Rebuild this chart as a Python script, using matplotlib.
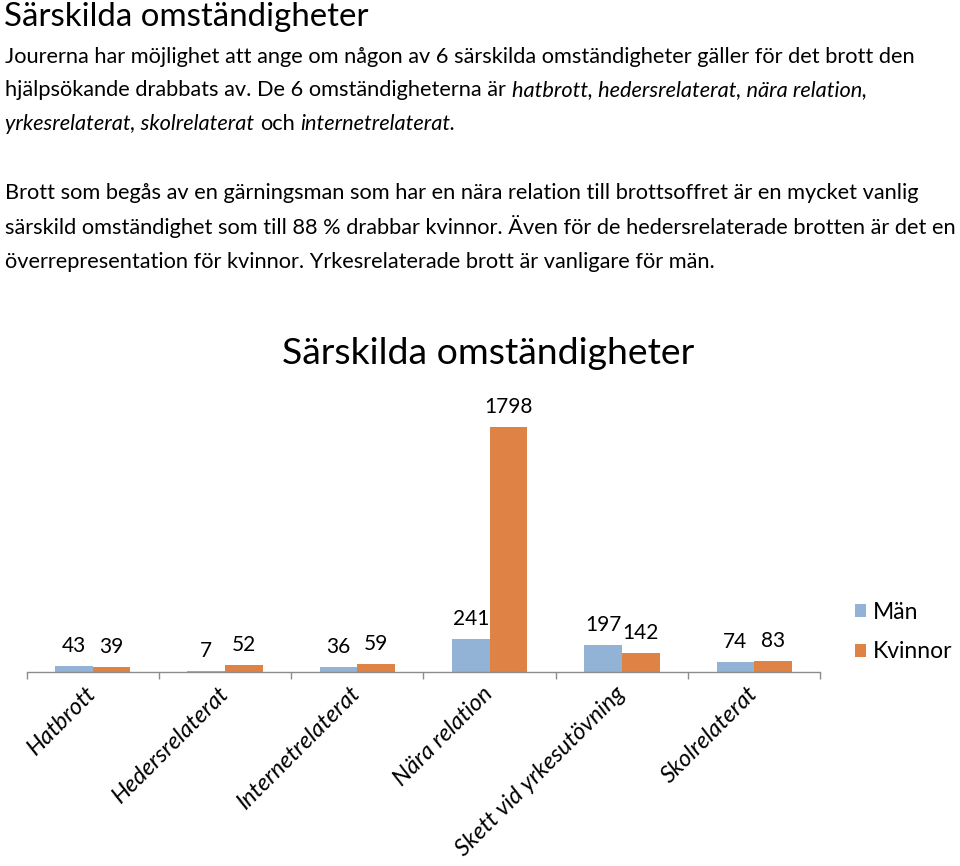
import matplotlib
matplotlib.use("Agg")
import matplotlib.pyplot as plt
import numpy as np

# ---------------- data ----------------
categories = ["Hatbrott", "Hedersrelaterat", "Internetrelaterat", "Nära relation",
              "Skett vid yrkesutövning", "Skolrelaterat"]
man = [43, 7, 36, 241, 197, 74]
kvinnor = [39, 52, 59, 1798, 142, 83]
series_names = ["Män", "Kvinnor"]

page_heading = "Särskilda omständigheter"
chart_title = "Särskilda omständigheter"
para1 = [
    [("Jourerna har möjlighet att ange om någon av 6 särskilda omständigheter gäller för det brott den", "normal")],
    [("hjälpsökande drabbats av. De 6 omständigheterna är", "normal"), (" ", "sp"),
     ("hatbrott, hedersrelaterat, nära relation,", "italic")],
    [("yrkesrelaterat, skolrelaterat", "italic"), (" ", "sp"), ("och", "normal"), (" ", "sp"),
     ("internetrelaterat.", "italic")],
]
para2 = [
    [("Brott som begås av en gärningsman som har en nära relation till brottsoffret är en mycket vanlig", "normal")],
    [("särskild omständighet som till 88 % drabbar kvinnor. Även för de hedersrelaterade brotten är det en", "normal")],
    [("överrepresentation för kvinnor. Yrkesrelaterade brott är vanligare för män.", "normal")],
]

# ---------------- style ----------------
W, H = 960, 866
C_MAN = "#93B3D6"
C_KV = "#DF8246"
AX_COL = "#8C8C8C"
BODY_FONT = "Lato"
CHART_FONT = "Lato"

fig = plt.figure(figsize=(W / 100, H / 100), dpi=100)
renderer = fig.canvas.get_renderer()


def fx(px):
    return px / W


def fy(py):
    return 1 - py / H


# page heading
fig.text(fx(4), fy(26), page_heading, fontsize=23.8, family=CHART_FONT,
         va="baseline", ha="left", color="black")

BODY_SIZE = 15.7


def space_width(size):
    a = fig.text(0, 0, "x x", fontsize=size, family=BODY_FONT)
    b = fig.text(0, 0, "xx", fontsize=size, family=BODY_FONT)
    w = a.get_window_extent(renderer).width - b.get_window_extent(renderer).width
    a.remove(); b.remove()
    return w


SPW = space_width(BODY_SIZE)


def draw_line(runs, x_px, base_px):
    x = x_px
    for txt, style in runs:
        if style == "sp":
            x += SPW
            continue
        t = fig.text(fx(x), fy(base_px), txt, fontsize=BODY_SIZE, family=BODY_FONT,
                     style=style, va="baseline", ha="left", color="black")
        x += t.get_window_extent(renderer).width


for i, runs in enumerate(para1):
    draw_line(runs, 5, 63 + i * 33.5)
for i, runs in enumerate(para2):
    draw_line(runs, 5, 199 + i * 34.5)

# ---------------- chart ----------------
ax_left, ax_right = 26.5, 820.5
ax_bottom, ax_top = 672, 399.5
ax = fig.add_axes([fx(ax_left), fy(ax_bottom), (ax_right - ax_left) / W, (ax_bottom - ax_top) / H])
ax.set_xlim(0, len(categories))
ax.set_ylim(0, 2000)

x = np.arange(len(categories)) + 0.5
bw = 1 / 3.5
b1 = ax.bar(x - bw / 2, man, width=bw, color=C_MAN, label=series_names[0])
b2 = ax.bar(x + bw / 2, kvinnor, width=bw, color=C_KV, label=series_names[1])

for bars, vals in ((b1, man), (b2, kvinnor)):
    for r, v in zip(bars, vals):
        ax.annotate(f"{v}", (r.get_x() + r.get_width() / 2, v), xytext=(0, 10),
                    textcoords="offset points", ha="center", va="baseline",
                    fontsize=15, family=CHART_FONT, color="black")

for s in ("top", "right", "left"):
    ax.spines[s].set_visible(False)
ax.spines["bottom"].set_color(AX_COL)
ax.spines["bottom"].set_linewidth(1.0)
ax.set_yticks([])

ax.set_xticks(np.arange(len(categories) + 1), minor=True)
ax.tick_params(axis="x", which="minor", length=5, color=AX_COL, width=1.0, direction="out")
ax.set_xticks(x)
ax.set_xticklabels(categories, rotation=45, ha="right", va="center", rotation_mode="anchor",
                   fontsize=17, family=CHART_FONT, style="italic")
ax.tick_params(axis="x", which="major", length=0, pad=13)

fig.text(fx(488), fy(354), chart_title, fontsize=26.9, family=CHART_FONT,
         ha="center", va="center", color="black")

leg = fig.legend(handles=[b1, b2], labels=series_names, loc="upper left",
                 bbox_to_anchor=(fx(855), fy(602)), frameon=False,
                 prop={"family": CHART_FONT, "size": 16.5},
                 handlelength=0.5, handleheight=0.5, handletextpad=0.3,
                 labelspacing=0.8, borderaxespad=0, borderpad=0)

fig.savefig("out.png", dpi=100)
